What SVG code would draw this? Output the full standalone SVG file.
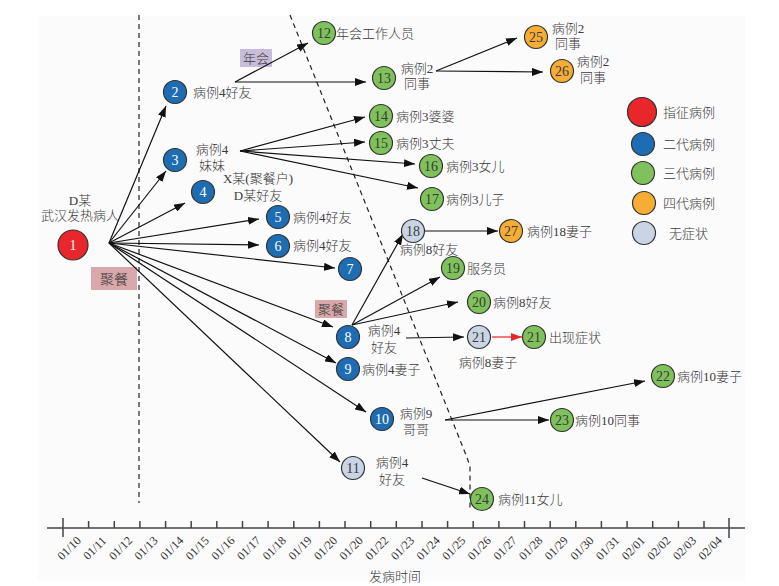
<svg xmlns="http://www.w3.org/2000/svg" width="779" height="586" viewBox="0 0 779 586">
<defs>
<marker id="ah" markerUnits="userSpaceOnUse" markerWidth="11" markerHeight="8" refX="11" refY="4" orient="auto"><path d="M0,0 L11,4 L0,8 z" fill="#111"/></marker>
<marker id="ahr" markerUnits="userSpaceOnUse" markerWidth="11" markerHeight="8" refX="11" refY="4" orient="auto"><path d="M0,0 L11,4 L0,8 z" fill="#e8262b"/></marker>
</defs>
<style>
text{font-family:"Liberation Serif","Noto Sans CJK SC",serif;font-size:13px;fill:#3a3a3a;font-weight:300}
.n{font-size:14px;text-anchor:middle}
.w{fill:#fff}
.m{text-anchor:middle}
.ax{font-size:12px;text-anchor:middle;fill:#333}
circle{stroke:#333;stroke-width:1.2}
.red{fill:#e8262b}.blue{fill:#1e6db3}.green{fill:#7fc25b}.orange{fill:#f5ad36}.light{fill:#c9d5e4}
.c line{stroke:#111;stroke-width:1.2;marker-end:url(#ah)}
.dash{stroke:#222;stroke-width:1.2;stroke-dasharray:5,4;fill:none}
.axis line{stroke:#444;stroke-width:1.5}
</style>
<rect x="38" y="16" width="707" height="565" fill="#fbfbfb"/>
<g id="guides">
<line class="dash" x1="139" y1="15" x2="139" y2="503"/>
<path class="dash" d="M290,15 L466,455 L470,466 L470,510"/>
</g>
<g id="tags">
<rect x="240" y="49" width="32" height="18" fill="#c8bdd9"/><text class="m" x="256" y="63">年会</text>
<rect x="91" y="267" width="46" height="23" fill="#d9a8aa"/><text class="m" x="114" y="284" style="font-size:14px">聚餐</text>
<rect x="315" y="300" width="32" height="18" fill="#d9a8aa"/><text class="m" x="331" y="314">聚餐</text>
</g>
<g class="c" id="connectors">
<line x1="109" y1="243" x2="166" y2="106"/>
<line x1="109" y1="243" x2="166" y2="171"/>
<line x1="109" y1="243" x2="185" y2="203"/>
<line x1="109" y1="243" x2="259" y2="219"/>
<line x1="109" y1="243" x2="259" y2="245"/>
<line x1="109" y1="243" x2="335" y2="268"/>
<line x1="109" y1="243" x2="333" y2="327"/>
<line x1="109" y1="243" x2="336" y2="363"/>
<line x1="109" y1="243" x2="366" y2="412"/>
<line x1="109" y1="243" x2="340" y2="462"/>
<line x1="235" y1="82" x2="308" y2="43"/>
<line x1="235" y1="82" x2="366" y2="82"/>
<line x1="240" y1="151" x2="365" y2="117"/>
<line x1="240" y1="151" x2="365" y2="142"/>
<line x1="240" y1="151" x2="415" y2="164"/>
<line x1="240" y1="151" x2="418" y2="188"/>
<line x1="436" y1="71" x2="517" y2="38"/>
<line x1="436" y1="71" x2="543" y2="72"/>
<line x1="352" y1="325" x2="403" y2="234"/>
<line x1="352" y1="325" x2="440" y2="277"/>
<line x1="352" y1="325" x2="458" y2="302"/>
<line x1="406" y1="338" x2="464" y2="337"/>
<line x1="492" y1="337" x2="522" y2="337" style="stroke:#e8262b;marker-end:url(#ahr)"/>
<line x1="425" y1="231" x2="498" y2="231"/>
<line x1="445" y1="420" x2="645" y2="381"/>
<line x1="445" y1="420" x2="549" y2="420"/>
<line x1="422" y1="478" x2="470" y2="494"/>
</g>
<g id="n1"><circle class="red" cx="73" cy="245" r="15"/><text class="n w" x="73" y="250">1</text><text class="m" x="80" y="205">D某</text><text class="m" x="80" y="220">武汉发热病人</text></g>
<g id="n2"><circle class="blue" cx="175" cy="92" r="11.5"/><text class="n w" x="175" y="97">2</text><text x="193" y="97">病例4好友</text></g>
<g id="n3"><circle class="blue" cx="175" cy="160" r="11.5"/><text class="n w" x="175" y="165">3</text><text class="m" x="212" y="154">病例4</text><text class="m" x="212" y="170">妹妹</text></g>
<g id="n4"><circle class="blue" cx="203" cy="192" r="11.5"/><text class="n w" x="203" y="197">4</text><text class="m" x="258" y="183">X某(聚餐户)</text><text class="m" x="258" y="200">D某好友</text></g>
<g id="n5"><circle class="blue" cx="278" cy="217" r="11.5"/><text class="n w" x="278" y="222">5</text><text x="293" y="222">病例4好友</text></g>
<g id="n6"><circle class="blue" cx="278" cy="246" r="11.5"/><text class="n w" x="278" y="251">6</text><text x="293" y="250">病例4好友</text></g>
<g id="n7"><circle class="blue" cx="350" cy="269" r="11.5"/><text class="n w" x="350" y="274">7</text></g>
<g id="n8"><circle class="blue" cx="348" cy="337" r="11.5"/><text class="n w" x="348" y="342">8</text><text class="m" x="384" y="335">病例4</text><text class="m" x="384" y="352">好友</text></g>
<g id="n9"><circle class="blue" cx="348" cy="369" r="11.5"/><text class="n w" x="348" y="374">9</text><text x="362" y="374">病例4妻子</text></g>
<g id="n10"><circle class="blue" cx="382" cy="419" r="11.5"/><text class="n w" x="382" y="424">10</text><text class="m" x="416" y="418">病例9</text><text class="m" x="416" y="434">哥哥</text></g>
<g id="n11"><circle class="light" cx="353" cy="468" r="11.5"/><text class="n" x="353" y="473">11</text><text class="m" x="392" y="467">病例4</text><text class="m" x="392" y="484">好友</text></g>
<g id="n12"><circle class="green" cx="324" cy="33" r="11.5"/><text class="n" x="324" y="38">12</text><text x="336" y="38">年会工作人员</text></g>
<g id="n13"><circle class="green" cx="384" cy="78" r="11.5"/><text class="n" x="384" y="83">13</text><text class="m" x="417" y="73">病例2</text><text class="m" x="417" y="88">同事</text></g>
<g id="n14"><circle class="green" cx="381" cy="116" r="11.5"/><text class="n" x="381" y="121">14</text><text x="396" y="121">病例3婆婆</text></g>
<g id="n15"><circle class="green" cx="381" cy="143" r="11.5"/><text class="n" x="381" y="148">15</text><text x="396" y="148">病例3丈夫</text></g>
<g id="n16"><circle class="green" cx="431" cy="166" r="11.5"/><text class="n" x="431" y="171">16</text><text x="446" y="171">病例3女儿</text></g>
<g id="n17"><circle class="green" cx="432" cy="199" r="11.5"/><text class="n" x="432" y="204">17</text><text x="446" y="204">病例3儿子</text></g>
<g id="n18"><circle class="light" cx="413" cy="231" r="11.5"/><text class="n" x="413" y="236">18</text><text class="m" x="429" y="254">病例8好友</text></g>
<g id="n19"><circle class="green" cx="453" cy="268" r="11.5"/><text class="n" x="453" y="273">19</text><text x="467" y="273">服务员</text></g>
<g id="n20"><circle class="green" cx="479" cy="302" r="11.5"/><text class="n" x="479" y="307">20</text><text x="493" y="307">病例8好友</text></g>
<g id="n21a"><circle class="light" cx="479" cy="337" r="11.5"/><text class="n" x="479" y="342">21</text><text class="m" x="488" y="367">病例8妻子</text></g>
<g id="n21b"><circle class="green" cx="534" cy="337" r="11.5"/><text class="n" x="534" y="342">21</text><text x="549" y="342">出现症状</text></g>
<g id="n22"><circle class="green" cx="663" cy="376" r="11.5"/><text class="n" x="663" y="381">22</text><text x="677" y="381">病例10妻子</text></g>
<g id="n23"><circle class="green" cx="562" cy="420" r="11.5"/><text class="n" x="562" y="425">23</text><text x="575" y="425">病例10同事</text></g>
<g id="n24"><circle class="green" cx="482" cy="499" r="11.5"/><text class="n" x="482" y="504">24</text><text x="498" y="504">病例11女儿</text></g>
<g id="n25"><circle class="orange" cx="536" cy="37" r="11.5"/><text class="n" x="536" y="42">25</text><text class="m" x="568" y="33">病例2</text><text class="m" x="568" y="48">同事</text></g>
<g id="n26"><circle class="orange" cx="562" cy="71" r="11.5"/><text class="n" x="562" y="76">26</text><text class="m" x="593" y="66">病例2</text><text class="m" x="593" y="82">同事</text></g>
<g id="n27"><circle class="orange" cx="511" cy="231" r="11.5"/><text class="n" x="511" y="236">27</text><text x="527" y="236">病例18妻子</text></g>
<g id="legend">
<circle class="red" cx="642" cy="112" r="14.5"/><text x="663" y="117">指征病例</text>
<circle class="blue" cx="643" cy="144" r="11.5"/><text x="663" y="149">二代病例</text>
<circle class="green" cx="643" cy="173" r="11.5"/><text x="663" y="178">三代病例</text>
<circle class="orange" cx="644" cy="203" r="11.5"/><text x="663" y="208">四代病例</text>
<circle class="light" cx="644" cy="233" r="11.5"/><text x="669" y="238">无症状</text>
</g>
<g class="axis" id="axis">
<line x1="47" y1="528" x2="745" y2="528"/>
<line x1="63" y1="518" x2="63" y2="537"/>
<line x1="729" y1="518" x2="729" y2="538"/>
<line x1="88.6" y1="521" x2="88.6" y2="528"/><line x1="114.3" y1="521" x2="114.3" y2="528"/><line x1="139.9" y1="521" x2="139.9" y2="528"/><line x1="165.6" y1="521" x2="165.6" y2="528"/><line x1="191.2" y1="521" x2="191.2" y2="528"/><line x1="216.8" y1="521" x2="216.8" y2="528"/><line x1="242.5" y1="521" x2="242.5" y2="528"/><line x1="268.1" y1="521" x2="268.1" y2="528"/><line x1="293.8" y1="521" x2="293.8" y2="528"/><line x1="319.4" y1="521" x2="319.4" y2="528"/><line x1="345" y1="521" x2="345" y2="528"/><line x1="370.7" y1="521" x2="370.7" y2="528"/><line x1="396.3" y1="521" x2="396.3" y2="528"/><line x1="422" y1="521" x2="422" y2="528"/><line x1="447.6" y1="521" x2="447.6" y2="528"/><line x1="473.2" y1="521" x2="473.2" y2="528"/><line x1="498.9" y1="521" x2="498.9" y2="528"/><line x1="524.5" y1="521" x2="524.5" y2="528"/><line x1="550.2" y1="521" x2="550.2" y2="528"/><line x1="575.8" y1="521" x2="575.8" y2="528"/><line x1="601.4" y1="521" x2="601.4" y2="528"/><line x1="627.1" y1="521" x2="627.1" y2="528"/><line x1="652.7" y1="521" x2="652.7" y2="528"/><line x1="678.4" y1="521" x2="678.4" y2="528"/><line x1="704" y1="521" x2="704" y2="528"/>
<text class="ax" x="72" y="551" transform="rotate(-45 72 551)">01/10</text>
<text class="ax" x="97.6" y="551" transform="rotate(-45 97.6 551)">01/11</text>
<text class="ax" x="123.3" y="551" transform="rotate(-45 123.3 551)">01/12</text>
<text class="ax" x="148.9" y="551" transform="rotate(-45 148.9 551)">01/13</text>
<text class="ax" x="174.6" y="551" transform="rotate(-45 174.6 551)">01/14</text>
<text class="ax" x="200.2" y="551" transform="rotate(-45 200.2 551)">01/15</text>
<text class="ax" x="225.8" y="551" transform="rotate(-45 225.8 551)">01/16</text>
<text class="ax" x="251.5" y="551" transform="rotate(-45 251.5 551)">01/17</text>
<text class="ax" x="277.1" y="551" transform="rotate(-45 277.1 551)">01/18</text>
<text class="ax" x="302.8" y="551" transform="rotate(-45 302.8 551)">01/19</text>
<text class="ax" x="328.4" y="551" transform="rotate(-45 328.4 551)">01/20</text>
<text class="ax" x="354" y="551" transform="rotate(-45 354 551)">01/20</text>
<text class="ax" x="379.7" y="551" transform="rotate(-45 379.7 551)">01/22</text>
<text class="ax" x="405.3" y="551" transform="rotate(-45 405.3 551)">01/23</text>
<text class="ax" x="431" y="551" transform="rotate(-45 431 551)">01/24</text>
<text class="ax" x="456.6" y="551" transform="rotate(-45 456.6 551)">01/25</text>
<text class="ax" x="482.2" y="551" transform="rotate(-45 482.2 551)">01/26</text>
<text class="ax" x="507.9" y="551" transform="rotate(-45 507.9 551)">01/27</text>
<text class="ax" x="533.5" y="551" transform="rotate(-45 533.5 551)">01/28</text>
<text class="ax" x="559.2" y="551" transform="rotate(-45 559.2 551)">01/29</text>
<text class="ax" x="584.8" y="551" transform="rotate(-45 584.8 551)">01/30</text>
<text class="ax" x="610.4" y="551" transform="rotate(-45 610.4 551)">01/31</text>
<text class="ax" x="636.1" y="551" transform="rotate(-45 636.1 551)">02/01</text>
<text class="ax" x="661.7" y="551" transform="rotate(-45 661.7 551)">02/02</text>
<text class="ax" x="687.4" y="551" transform="rotate(-45 687.4 551)">02/03</text>
<text class="ax" x="713" y="551" transform="rotate(-45 713 551)">02/04</text>
<text class="m" x="395" y="581">发病时间</text>
</g>
</svg>
